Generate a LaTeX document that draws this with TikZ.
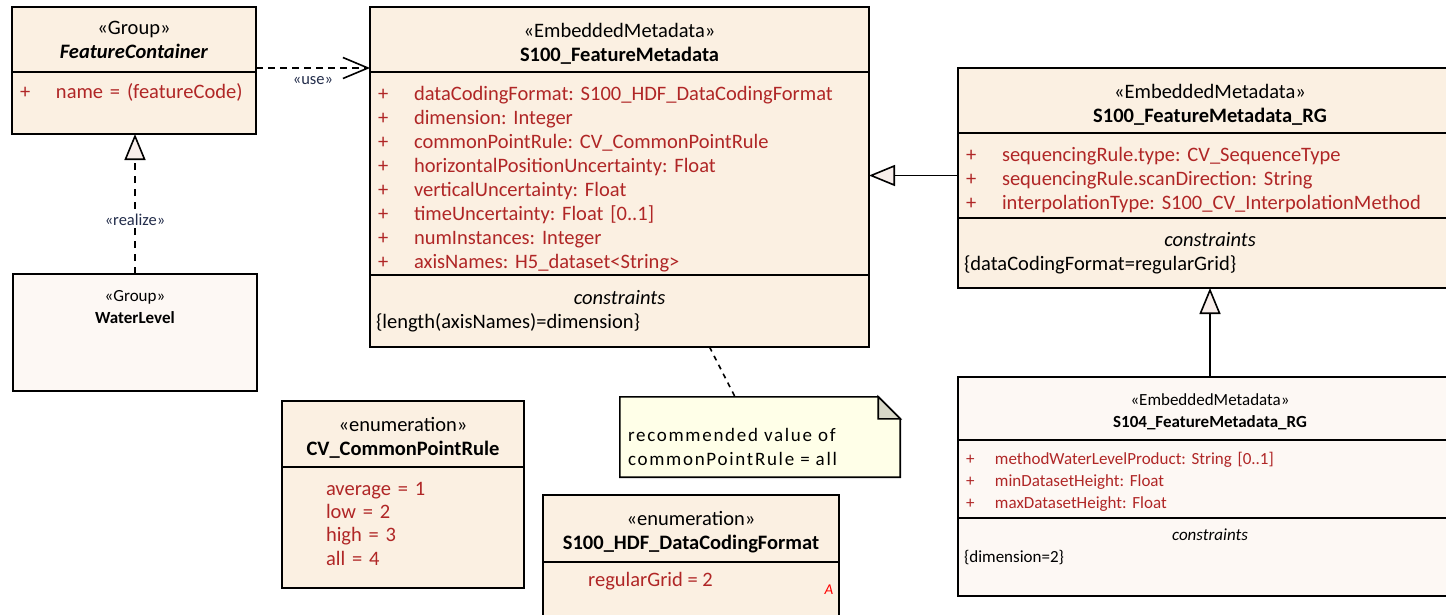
\documentclass[tikz,border=0pt]{standalone}
\usepackage{fontspec}
\setmainfont{Carlito}
\newfontfamily\notefont[LetterSpace=9]{Carlito}
\frenchspacing
\usepackage{xcolor}
\definecolor{classfill}{RGB}{251, 240, 226}
\definecolor{lightfill}{RGB}{253, 248, 244}
\definecolor{notefill}{RGB}{255, 255, 232}
\definecolor{foldfill}{RGB}{216, 216, 200}
\definecolor{tipfill}{RGB}{248, 238, 235}
\definecolor{attrred}{RGB}{176, 38, 38}
\definecolor{labelblue}{RGB}{35, 45, 75}
\usetikzlibrary{arrows.meta, positioning}
\newcommand{\umlfont}{\fontsize{20.5}{24}\selectfont}
\newcommand{\umlsmall}{\fontsize{17}{22}\selectfont}
\newcommand{\umlattr}[2][36pt]{\makebox[#1][l]{+}#2}
\newcommand{\umltop}[1]{\rule{0pt}{#1}}
\newcommand{\umlcaption}{\hspace*{\fill}\textit{constraints}\hspace*{\fill}\mbox{}}

\begin{document}
\begin{tikzpicture}[x=1pt, y=-1pt,
		compartment/.style={draw=black, line width=1.6pt, fill=classfill,
			inner sep=0pt, outer sep=0pt},
		header/.style={compartment, align=center, font=\umlfont},
		attrs/.style={compartment, align=left, inner xsep=8pt,
			font=\umlfont\color{attrred}},
		cons/.style={compartment, align=left, inner xsep=6pt, font=\umlfont},
		items/.style={compartment, align=left, inner xsep=44pt,
			font=\fontsize{20.5}{23.4}\selectfont\color{attrred}},
		lbl/.style={font=\fontsize{16.5}{20}\selectfont\color{labelblue}},
		usedep/.style={line width=1.6pt, dash pattern=on 7pt off 5pt,
			-{Straight Barb[length=25pt, width=21pt, line width=1.6pt]}},
		realize/.style={line width=1.6pt, dash pattern=on 7pt off 6pt,
			-{Triangle[length=26pt, width=21pt, fill=tipfill, line width=1.6pt]}},
		generalize/.style={line width=1.6pt,
			-{Triangle[length=26pt, width=21pt, fill=tipfill, line width=1.6pt]}},
		notelink/.style={line width=1.6pt, dash pattern=on 5pt off 5pt}
		]
		\useasboundingbox (0,0) rectangle (1446,614);
		
		\node[header, minimum width=244pt, minimum height=65pt, anchor=north west]
		(fcHead) at (12,7) {«Group»\\\textbf{\textit{FeatureContainer}}};
		\node[attrs, text width=228pt, minimum height=62pt, below=0pt of fcHead]
		(fcAttr) {\umlattr{name = (featureCode)}\\\mbox{}};
		
		\node[compartment, fill=lightfill, minimum width=244pt, minimum height=117pt,
		anchor=north west] (wlBox) at (13,274) {};
		\node[font=\umlsmall, align=center, inner sep=0pt, anchor=north]
		(wlText) at ([yshift=-16pt]wlBox.north) {«Group»\\\textbf{WaterLevel}};
		
		\node[header, minimum width=499pt, minimum height=65pt, anchor=north west]
		(fmHead) at (370,7)
		{\umltop{22pt}«EmbeddedMetadata»\\\textbf{S100\_FeatureMetadata}};
		\node[attrs, text width=483pt, minimum height=203pt, below=0pt of fmHead]
		(fmAttr) {\umltop{26pt}\umlattr{dataCodingFormat: S100\_HDF\_DataCodingFormat}\\
			\umlattr{dimension: Integer}\\
			\umlattr{commonPointRule: CV\_CommonPointRule}\\
			\umlattr{horizontalPositionUncertainty: Float}\\
			\umlattr{verticalUncertainty: Float}\\
			\umlattr{timeUncertainty: Float [0..1]}\\
			\umlattr{numInstances: Integer}\\
			\umlattr{axisNames: H5\_dataset<String>}};
		\node[cons, text width=487pt, minimum height=72pt, below=0pt of fmAttr]
		(fmCons) {\umlcaption\\\{length(axisNames)=dimension\}};
		
		\node[header, minimum width=504pt, minimum height=65pt, anchor=north west]
		(rgHead) at (958,68)
		{\umltop{22pt}«EmbeddedMetadata»\\\textbf{S100\_FeatureMetadata\_RG}};
		\node[attrs, text width=488pt, minimum height=85pt, below=0pt of rgHead]
		(rgAttr) {\umltop{24pt}\umlattr{sequencingRule.type: CV\_SequenceType}\\
			\umlattr{sequencingRule.scanDirection: String}\\
			\umlattr{interpolationType: S100\_CV\_InterpolationMethod}};
		\node[cons, text width=492pt, minimum height=70pt, below=0pt of rgAttr]
		(rgCons) {\umlcaption\\\{dataCodingFormat=regularGrid\}};
		
		\node[header, fill=lightfill, font=\umlsmall, minimum width=504pt,
		minimum height=63pt, anchor=north west] (s104Head) at (958,377)
		{\umltop{18pt}«EmbeddedMetadata»\\\textbf{S104\_FeatureMetadata\_RG}};
		\node[attrs, fill=lightfill, font=\umlsmall\color{attrred}, text width=488pt,
		minimum height=78pt, below=0pt of s104Head]
		(s104Attr) {\umltop{18pt}\umlattr[29pt]{methodWaterLevelProduct: String [0..1]}\\
			\umlattr[29pt]{minDatasetHeight: Float}\\
			\umlattr[29pt]{maxDatasetHeight: Float}};
		\node[cons, fill=lightfill, font=\umlsmall, text width=492pt,
		minimum height=78pt, below=0pt of s104Attr]
		(s104Cons) {\umlcaption\\\{dimension=2\}\\\mbox{}};
		
		\node[header, minimum width=242pt, minimum height=66pt, anchor=north west]
		(cprHead) at (282,401)
		{\umltop{21pt}«enumeration»\\\textbf{CV\_CommonPointRule}};
		\node[items, text width=154pt, minimum height=121pt, below=0pt of cprHead]
		(cprBody) {average = 1\\low = 2\\high = 3\\all = 4\rule[-8pt]{0pt}{8pt}};
		
		\node[header, minimum width=296pt, minimum height=67pt, anchor=north west]
		(hdfHead) at (543,495)
		{\umltop{22pt}«enumeration»\\\textbf{S100\_HDF\_DataCodingFormat}};
		\node[compartment, minimum width=296pt, minimum height=100pt,
		below=0pt of hdfHead] (hdfBody) {};
		\node[font=\umlfont\color{attrred}, inner sep=0pt, anchor=west]
		(hdfItem) at ([xshift=45pt, yshift=-19pt]hdfBody.north west) {regularGrid = 2};
		\node[font=\fontsize{15}{18}\selectfont\itshape\color{red}, inner sep=0pt]
		(hdfMark) at ([xshift=-10pt, yshift=-28pt]hdfBody.north east) {A};
		
		\node[minimum width=280pt, minimum height=80pt, inner sep=0pt]
		(noteBox) at (760,437) {};
		\draw[line width=1.6pt, fill=notefill] (noteBox.south west)
		-- (noteBox.north west) -- ([xshift=-22pt]noteBox.north east)
		-- ([yshift=-22pt]noteBox.north east) -- (noteBox.south east) -- cycle;
		\draw[line width=1.6pt, fill=foldfill] ([xshift=-22pt]noteBox.north east)
		-- ([xshift=-22pt, yshift=-22pt]noteBox.north east)
		-- ([yshift=-22pt]noteBox.north east) -- cycle;
		\node[font=\notefont\fontsize{19}{24}\selectfont, align=left, inner sep=0pt,
		anchor=west] (noteText) at ([xshift=8pt, yshift=-10pt]noteBox.west)
		{recommended value of\\commonPointRule = all};
		
		\draw[usedep] ([yshift=4pt]fcHead.south east) -- ([yshift=4pt]fmHead.south west)
		node[midway, below=4pt, lbl] (useLbl) {«use»};
		\draw[realize] (wlBox.north) -- (wlBox.north |- fcAttr.south)
		node[pos=0.39, lbl, fill=white, inner sep=2pt] (realizeLbl) {«realize»};
		\draw[generalize] (rgAttr.west) -- (rgAttr.west -| fmAttr.east);
		\draw[generalize] (s104Head.north) -- (rgCons.south);
		\draw[notelink] ([xshift=90pt]fmCons.south) -- ([xshift=-25pt]noteBox.north);
	\end{tikzpicture}
\end{document}
